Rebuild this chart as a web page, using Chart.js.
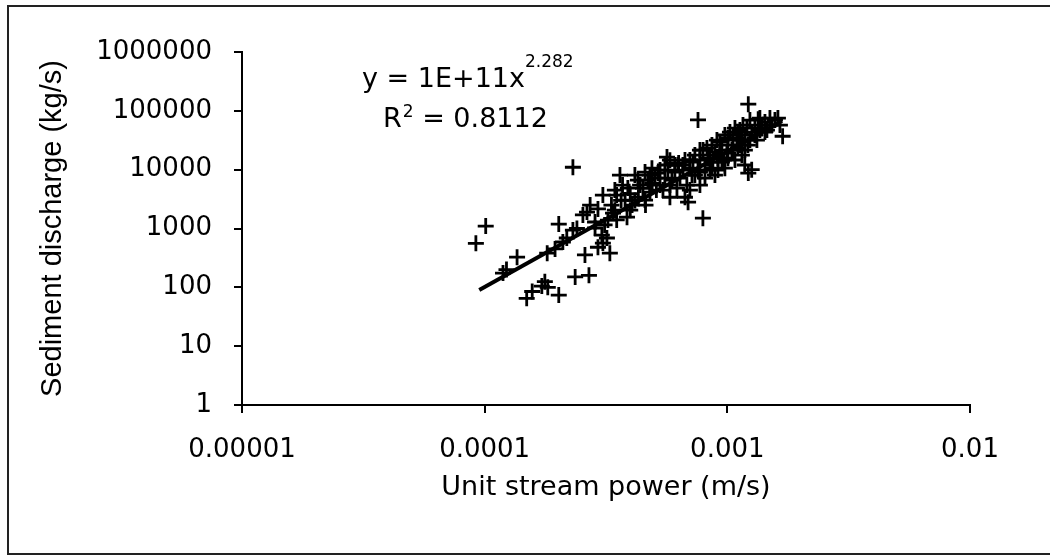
<!DOCTYPE html>
<html>
<head>
<meta charset="utf-8">
<title>Sediment discharge vs unit stream power</title>
<style>
  html, body { margin: 0; padding: 0; background: #fff; }
  #wrap { width: 1050px; height: 560px; }
</style>
</head>
<body>
<div id="wrap"><canvas id="chart" width="1050" height="560"></canvas></div>
<script src="https://cdn.jsdelivr.net/npm/chart.js"></script>
<script>
// measured points, unit stream power (m/s) / sediment discharge (kg/s)
const streamPower = [
    9.2e-5, 1.01e-4, 1.19e-4, 1.23e-4, 1.36e-4, 1.49e-4, 1.57e-4, 1.72e-4, 1.77e-4, 1.82e-4,
    2.02e-4, 2.02e-4, 1.81e-4, 1.95e-4, 2.10e-4, 2.18e-4, 2.36e-4, 2.69e-4, 2.31e-4, 2.64e-4,
    2.59e-4, 3.07e-4, 2.93e-4, 3.19e-4, 3.04e-4, 3.28e-4, 2.93e-4, 3.38e-4, 2.54e-4, 2.72e-4,
    3.07e-4, 2.31e-4, 2.40e-4, 2.85e-4, 3.12e-4, 3.50e-4, 3.61e-4, 4.16e-4, 4.80e-4, 5.18e-4,
    3.98e-4, 4.60e-4, 5.43e-4, 5.80e-4, 6.69e-4, 3.86e-4, 4.30e-4, 5.10e-4, 3.98e-4, 4.49e-4,
    4.90e-4, 3.70e-4, 3.50e-4, 3.65e-4, 3.33e-4, 4.16e-4, 5.64e-4, 5.80e-4, 6.30e-4, 6.89e-4,
    7.93e-4, 7.57e-4, 1.22e-3, 1.34e-3, 1.69e-3, 1.22e-3, 1.18e-3, 1.26e-3, 4.37e-4, 4.71e-4,
    5.03e-4, 5.28e-4, 3.79e-4, 4.05e-4, 4.58e-4, 4.80e-4, 3.44e-4, 3.22e-4, 2.85e-4,
    5.28e-4, 5.53e-4, 5.69e-4, 5.91e-4, 6.08e-4, 6.26e-4, 6.38e-4, 6.56e-4, 6.69e-4, 6.81e-4,
    7.01e-4, 7.15e-4, 7.22e-4, 7.35e-4, 7.57e-4, 7.71e-4, 7.71e-4, 7.94e-4, 8.09e-4, 8.24e-4,
    8.32e-4, 8.48e-4, 8.64e-4, 8.72e-4, 8.89e-4, 9.06e-4, 9.15e-4, 9.32e-4, 9.50e-4, 9.68e-4,
    9.77e-4, 9.96e-4, 1.006e-3, 1.025e-3, 1.044e-3, 1.054e-3, 1.075e-3, 1.095e-3, 1.106e-3, 1.127e-3,
    1.148e-3, 1.160e-3, 1.181e-3, 1.204e-3, 1.215e-3, 1.239e-3, 1.263e-3, 1.299e-3, 1.324e-3, 1.362e-3,
    1.389e-3, 1.429e-3, 1.456e-3, 1.498e-3, 1.527e-3, 1.571e-3, 1.616e-3, 1.647e-3, 1.148e-3, 1.075e-3,
    9.77e-4, 8.89e-4, 7.71e-4, 7.01e-4, 6.20e-4, 5.80e-4,
    7.35e-4, 8.09e-4, 8.64e-4, 9.15e-4, 9.50e-4, 1.006e-3, 1.054e-3, 1.127e-3, 1.181e-3, 1.239e-3,
    1.299e-3, 1.362e-3, 1.429e-3, 1.498e-3, 1.106e-3, 1.006e-3, 9.32e-4, 8.48e-4, 7.71e-4, 7.01e-4,
    6.56e-4, 6.08e-4, 5.53e-4, 3.44e-4, 3.89e-4, 4.28e-4, 4.58e-4, 4.89e-4
];
const sedimentDischarge = [
    560, 1100, 175, 200, 325, 65, 85, 105, 125, 100,
    74, 1190, 380, 450, 590, 690, 150, 160, 11000, 1900,
    355, 565, 480, 690, 770, 380, 2150, 1830, 1700, 2500,
    3700, 940, 1000, 1290, 1150, 1400, 8100, 8100, 8100, 8750,
    2050, 2500, 4500, 3400, 3400, 1560, 3400, 4500, 3900, 4800,
    5900, 5470, 3700, 3000, 2500, 3000, 16400, 14500, 13000, 2800,
    1500, 70000, 130000, 72000, 37000, 8750, 12000, 10000, 5470, 6650,
    7200, 9840, 3040, 2500, 3040, 4160, 2050, 1390, 1020,
    5470, 7200, 9840, 6650, 9100, 12000, 7200, 9840, 14600, 5470,
    10600, 8100, 13500, 17700, 9840, 14600, 9100, 21500, 12000, 23300,
    15700, 9840, 26200, 13500, 19900, 31900, 15700, 29500, 21500, 14600,
    38800, 19100, 26200, 43600, 21500, 31900, 51000, 34500, 23300, 47100,
    31900, 57300, 38800, 51000, 26200, 69700, 43600, 57300, 31900, 75400,
    51000, 64500, 47100, 75400, 57300, 69700, 75400, 57300, 17700, 14600,
    10600, 8100, 5470, 4500, 4860, 5470,
    8100, 7200, 10600, 9840, 13500, 15700, 21500, 26200, 21500, 31900,
    38800, 47100, 43600, 57300, 43600, 34500, 19100, 17700, 21500, 14600,
    12000, 12000, 12000, 4500, 4860, 6650, 9100, 10600
];

// power-law trend line end points
const trendPower = [9.5e-5, 1.68e-3];
const trendDischarge = [90, 67000];

const xTickValues = [0.00001, 0.0001, 0.001, 0.01];
const xTickLabels = ['0.00001', '0.0001', '0.001', '0.01'];
const yTickValues = [1, 10, 100, 1000, 10000, 100000, 1000000];
const yTickLabels = ['1', '10', '100', '1000', '10000', '100000', '1000000'];

const equationText = 'y = 1E+11x';
const equationExponent = '2.282';
const rSquaredValue = ' = 0.8112';

const FONT = '"DejaVu Sans", sans-serif';
const TITLE_FONT = '"Liberation Sans", Arial, sans-serif';

const points = streamPower.map((x, i) => ({ x: x, y: sedimentDischarge[i] }));
const trend = trendPower.map((x, i) => ({ x: x, y: trendDischarge[i] }));

const extras = {
    id: 'extras',
    afterDraw(chart) {
        const ctx = chart.ctx;
        ctx.save();
        // scanned frame round the figure
        ctx.strokeStyle = '#222';
        ctx.lineWidth = 2;
        ctx.beginPath();
        ctx.moveTo(1050, 6);
        ctx.lineTo(8, 6);
        ctx.lineTo(8, 554);
        ctx.lineTo(1050, 554);
        ctx.stroke();

        // trend equation
        ctx.fillStyle = '#000';
        ctx.textBaseline = 'alphabetic';
        ctx.textAlign = 'left';
        ctx.font = '27px ' + FONT;
        let x = 362, y = 87;
        ctx.fillText(equationText, x, y);
        x += ctx.measureText(equationText).width;
        ctx.font = '17px ' + FONT;
        ctx.fillText(equationExponent, x, y - 20);

        ctx.font = '27px ' + FONT;
        x = 383; y = 127;
        ctx.fillText('R', x, y);
        x += ctx.measureText('R').width + 1;
        ctx.font = '17px ' + FONT;
        ctx.fillText('2', x, y - 10);
        x += ctx.measureText('2').width;
        ctx.font = '27px ' + FONT;
        ctx.fillText(rSquaredValue, x, y);
        ctx.restore();
    }
};

new Chart(document.getElementById('chart'), {
    type: 'scatter',
    data: {
        datasets: [
            {
                label: 'Sediment discharge',
                data: points,
                pointStyle: 'cross',
                pointRadius: 8,
                borderColor: '#000',
                backgroundColor: '#000',
                borderWidth: 2.8
            },
            {
                label: 'Trend',
                data: trend,
                showLine: true,
                pointRadius: 0,
                borderColor: '#000',
                borderWidth: 4
            }
        ]
    },
    options: {
        responsive: false,
        animation: false,
        layout: { padding: { left: 36, right: 80, top: 52, bottom: 56 } },
        plugins: {
            legend: { display: false },
            tooltip: { enabled: false }
        },
        scales: {
            x: {
                type: 'logarithmic',
                min: 0.00001,
                max: 0.01,
                afterBuildTicks: (scale) => { scale.ticks = xTickValues.map(v => ({ value: v })); },
                afterFit: (scale) => { scale.height = 99; },
                ticks: {
                    color: '#000',
                    font: { family: FONT, size: 26 },
                    padding: 22,
                    maxRotation: 0,
                    autoSkip: false,
                    callback: (v) => xTickLabels[xTickValues.indexOf(v)]
                },
                grid: { drawOnChartArea: false, drawTicks: true, tickLength: 8, color: '#000', lineWidth: 2 },
                border: { display: true, color: '#000', width: 2 },
                title: {
                    display: true,
                    text: 'Unit stream power (m/s)',
                    color: '#000',
                    font: { family: FONT, size: 27 },
                    padding: { top: 0, bottom: 0 }
                }
            },
            y: {
                type: 'logarithmic',
                min: 1,
                max: 1000000,
                afterBuildTicks: (scale) => { scale.ticks = yTickValues.map(v => ({ value: v })); },
                afterFit: (scale) => { scale.width = 206; },
                ticks: {
                    color: '#000',
                    font: { family: FONT, size: 26 },
                    padding: 22,
                    autoSkip: false,
                    callback: (v) => yTickLabels[yTickValues.indexOf(v)]
                },
                grid: { drawOnChartArea: false, drawTicks: true, tickLength: 8, color: '#000', lineWidth: 2 },
                border: { display: true, color: '#000', width: 2 },
                title: {
                    display: true,
                    text: 'Sediment discharge (kg/s)',
                    color: '#000',
                    font: { family: TITLE_FONT, size: 29 },
                    padding: { top: 0, bottom: 0 }
                }
            }
        }
    },
    plugins: [extras]
});
</script>
</body>
</html>
